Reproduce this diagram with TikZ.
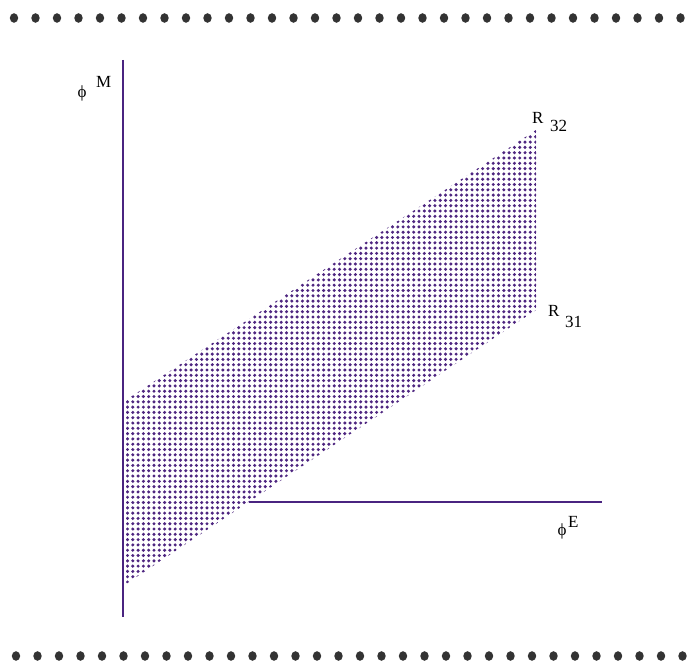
\documentclass[tikz,border=0pt]{standalone}
\usepackage{fontspec}
\setmainfont{Liberation Serif}
\definecolor{axcol}{HTML}{4A2480}
\definecolor{dotcol}{HTML}{4E2680}
\definecolor{rulecol}{HTML}{333333}
\tikzset{
  axis/.style={draw=axcol, line width=2.2pt},
  lbl/.style={font=\fontsize{17}{17}\selectfont, inner sep=0pt, text=black},
  sub/.style={font=\fontsize{17}{17}\selectfont, inner sep=0pt, text=black},
}
\begin{document}
\begin{tikzpicture}[x=1pt, y=-1pt]
\useasboundingbox (0,0) rectangle (688,669);
% dotted rules
\foreach \i in {0,...,31} {
  \fill[rulecol] ({14+21.5*\i},18) ellipse (4.2pt and 4.8pt);
  \fill[rulecol] ({16+21.5*\i},656) ellipse (4.2pt and 4.8pt);
}
% band
\coordinate (tl) at (126,400);
\coordinate (tr) at (536,130);
\coordinate (br) at (536,310);
\coordinate (bl) at (126,584);
\begin{scope}
\clip (tl) -- (tr) -- (br) -- (bl) -- cycle;
\foreach \j in {0,...,86} {
  \foreach \i in {0,...,77} {
    \fill[dotcol] ({127.5+5.3*\i},{131.5+5.3*\j}) circle (1.7pt);
  }
}
\end{scope}
% axes
\coordinate (ytop) at (123,60);
\coordinate (ybot) at (123,617);
\coordinate (xl) at (249,502);
\coordinate (xr) at (602,502);
\draw[axis] (ytop) -- (ybot);
\draw[axis] (xl) -- (xr);
% labels
\node[lbl, anchor=base] (phim) at (82,97) {\symbol{"03D5}};
\node[sub, anchor=base west] (m) at (96,88) {M};
\node[lbl, anchor=base west] (r32) at (532,123) {R};
\node[sub, anchor=base west] (r32s) at (550,131) {32};
\node[lbl, anchor=base west] (r31) at (548,316) {R};
\node[sub, anchor=base west] (r31s) at (565,327) {31};
\node[lbl, anchor=base] (phie) at (562,535) {\symbol{"03D5}};
\node[sub, anchor=base west] (e) at (568,527) {E};
\end{tikzpicture}
\end{document}
